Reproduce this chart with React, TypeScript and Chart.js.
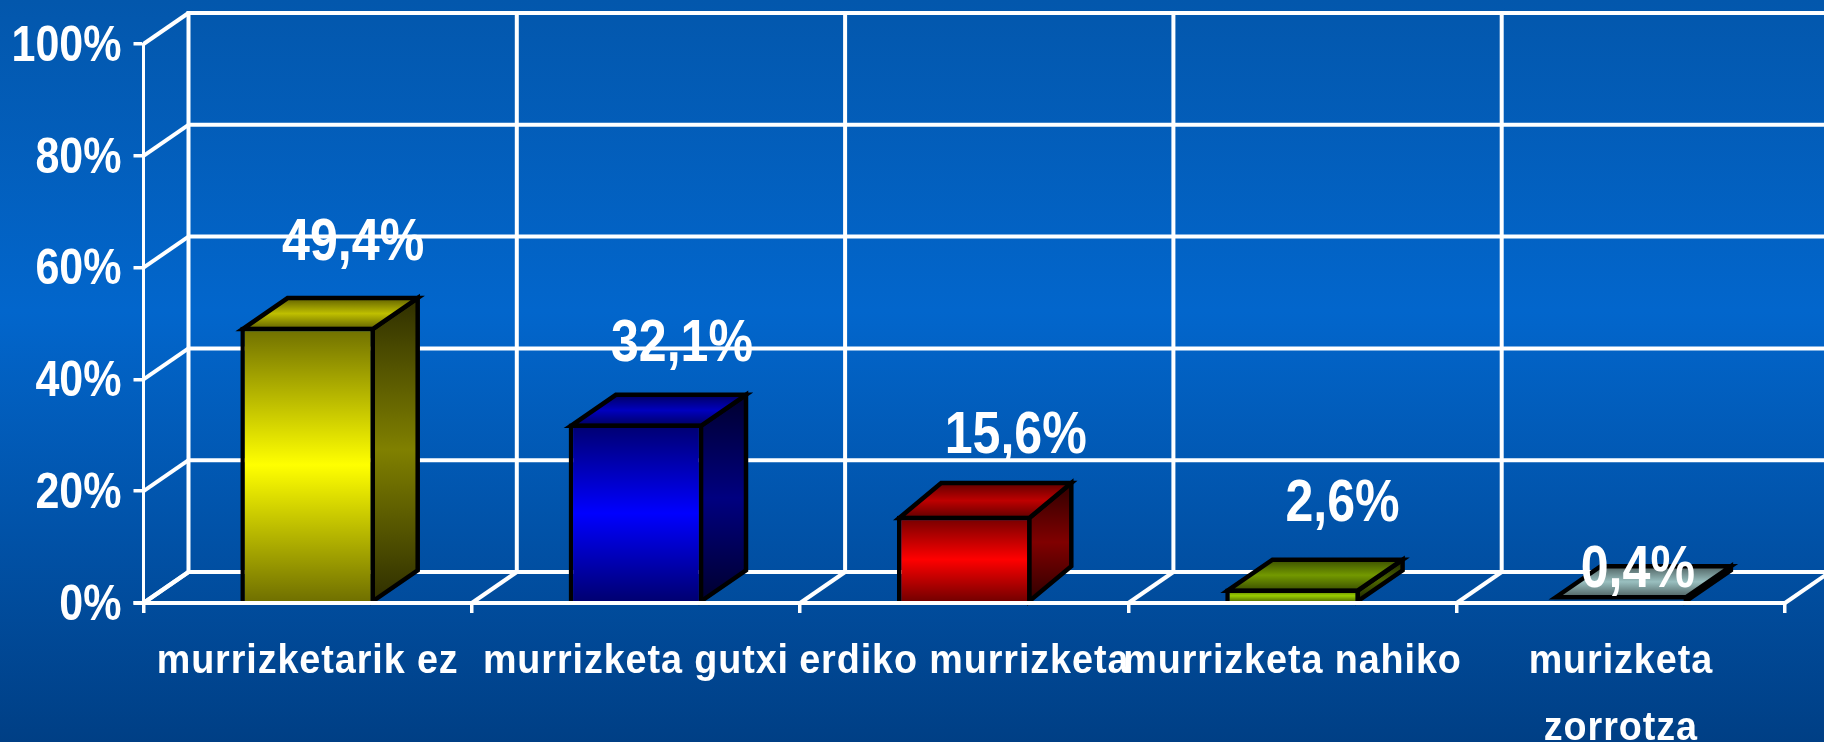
import React, { useEffect, useRef } from "react";
import { Chart, registerables } from "chart.js";

Chart.register(...registerables);

const categories: (string | string[])[] = [
  "murrizketarik ez",
  "murrizketa gutxi",
  "erdiko murrizketa",
  "murrizketa nahiko",
  ["murizketa", "zorrotza"],
];
const values = [49.4, 32.1, 15.6, 2.6, 0.4];
const barColors = [
  [255, 255, 0],
  [0, 0, 255],
  [255, 0, 0],
  [153, 204, 0],
  [204, 255, 255],
];
const labelShiftX = [45.5, 46, 51.5, 50, 17];
const labelShiftY = [-66.5, -63, -63, -67.5, -14];
const barDepthX = [45, 45, 42, 45, 45];
const barDepthY = [31, 31, 35, 31, 31];
const yMax = 100;
const yStep = 20;

const DEPTH_X = 45;
const DEPTH_Y = 31;
const EDGE = 4.5;

const rgb = (c: number[], f: number) =>
  `rgb(${Math.round(c[0] * f)},${Math.round(c[1] * f)},${Math.round(c[2] * f)})`;

const grad = (ctx: CanvasRenderingContext2D, y0: number, y1: number, c: number[], edge: number, mid: number) => {
  const g = ctx.createLinearGradient(0, y0, 0, y1);
  g.addColorStop(0, rgb(c, edge));
  g.addColorStop(0.5, rgb(c, mid));
  g.addColorStop(1, rgb(c, edge));
  return g;
};

// Axis labels in the reference are horizontally condensed: same layout items, drawn squeezed.
const squeezedLabels = (sx: number, spacing: string, dy: number) =>
  function (this: any, chartArea: any) {
    const ctx = this.ctx;
    for (const item of this.getLabelItems(chartArea)) {
      const [tx, ty] = item.options.translation;
      ctx.save();
      ctx.translate(tx, ty + dy);
      ctx.scale(sx, 1);
      ctx.font = item.font.string;
      ctx.fillStyle = "#ffffff";
      ctx.textAlign = item.options.textAlign;
      ctx.textBaseline = item.options.textBaseline;
      ctx.letterSpacing = spacing;
      const lines = Array.isArray(item.label) ? item.label : [item.label];
      let yy = item.textOffset;
      for (const l of lines) {
        ctx.fillText(l, 0, yy);
        yy += Number(item.font.lineHeight);
      }
      ctx.restore();
    }
  };

const scene = {
  id: "scene",
  beforeDraw(chart: any) {
    const { ctx, width, height, scales } = chart;
    const { x, y } = scales;
    ctx.save();
    const bg = ctx.createLinearGradient(0, 0, 0, height);
    bg.addColorStop(0, "#0357ac");
    bg.addColorStop(0.42, "#0266cc");
    bg.addColorStop(1, "#003f85");
    ctx.fillStyle = bg;
    ctx.fillRect(0, 0, width, height);

    ctx.strokeStyle = "#ffffff";
    ctx.lineWidth = 4;
    const left = x.left;
    const right = x.right;
    const top = y.getPixelForValue(yMax);
    const bottom = y.getPixelForValue(0);
    const line = (a: number, b: number, c: number, d: number) => {
      ctx.beginPath();
      ctx.moveTo(a, b);
      ctx.lineTo(c, d);
      ctx.stroke();
    };
    for (const t of y.ticks) {
      const py = y.getPixelForValue(t.value);
      line(left, py, left + DEPTH_X, py - DEPTH_Y);
      line(left + DEPTH_X, py - DEPTH_Y, width, py - DEPTH_Y);
    }
    const n = categories.length;
    const step = (right - left) / n;
    for (let i = 0; i <= n; i++) {
      const px = left + step * i;
      line(px, bottom, px + DEPTH_X, bottom - DEPTH_Y);
      line(px + DEPTH_X, top - DEPTH_Y - 2, px + DEPTH_X, bottom - DEPTH_Y);
    }
    ctx.restore();
  },
  beforeDatasetsDraw(chart: any) {
    const { ctx } = chart;
    const meta = chart.getDatasetMeta(0);
    ctx.save();
    ctx.lineWidth = EDGE;
    ctx.strokeStyle = "#000000";
    ctx.lineJoin = "miter";
    meta.data.forEach((bar: any, i: number) => {
      const c = barColors[i];
      const half = bar.width / 2;
      const dx = barDepthX[i];
      const dy = barDepthY[i];
      const x0 = bar.x - half + EDGE / 2;
      const x1 = bar.x + half - EDGE / 2;
      const yb = bar.base;
      const yt = Math.min(bar.y + EDGE / 2, yb - 4);
      ctx.beginPath();
      ctx.moveTo(x1, yt);
      ctx.lineTo(x1 + dx, yt - dy);
      ctx.lineTo(x1 + dx, yb - dy);
      ctx.lineTo(x1, yb);
      ctx.closePath();
      ctx.fillStyle = grad(ctx, yt - dy, yb, c, 0.18, 0.5);
      ctx.fill();
      ctx.stroke();
      ctx.beginPath();
      ctx.moveTo(x0, yt);
      ctx.lineTo(x0 + dx, yt - dy);
      ctx.lineTo(x1 + dx, yt - dy);
      ctx.lineTo(x1, yt);
      ctx.closePath();
      ctx.fillStyle = grad(ctx, yt - dy, yt, c, 0.38, 0.75);
      ctx.fill();
      ctx.stroke();
    });
    ctx.restore();
  },
  afterDatasetsDraw(chart: any) {
    const { ctx, scales } = chart;
    const { x, y } = scales;
    const meta = chart.getDatasetMeta(0);
    ctx.save();
    ctx.strokeStyle = "#ffffff";
    ctx.lineWidth = 4;
    ctx.beginPath();
    ctx.moveTo(x.left - 10, y.getPixelForValue(0));
    ctx.lineTo(x.right, y.getPixelForValue(0));
    ctx.stroke();
    ctx.fillStyle = "#ffffff";
    ctx.textAlign = "center";
    ctx.textBaseline = "alphabetic";
    ctx.font = "bold 60px 'Liberation Sans'";
    meta.data.forEach((bar: any, i: number) => {
      const text = values[i].toFixed(1).replace(".", ",") + "%";
      ctx.save();
      ctx.translate(bar.x + labelShiftX[i], bar.y + labelShiftY[i]);
      ctx.scale(0.835, 1);
      ctx.fillText(text, 0, 0);
      ctx.restore();
    });
    ctx.restore();
  },
};

export default function App() {
  const ref = useRef<HTMLCanvasElement>(null);
  useEffect(() => {
    const chart = new Chart(ref.current as HTMLCanvasElement, {
      type: "bar",
      data: {
        labels: categories as any,
        datasets: [
          {
            data: values,
            barPercentage: 0.41,
            categoryPercentage: 1,
            borderColor: "#000000",
            borderWidth: EDGE,
            borderSkipped: "bottom",
            backgroundColor: (c: any) => {
              const ch = c.chart;
              const col = barColors[c.dataIndex];
              if (!ch.chartArea || c.dataIndex === undefined) return "#000";
              const y = ch.scales.y;
              return grad(ch.ctx, y.getPixelForValue(values[c.dataIndex]), y.getPixelForValue(0), col, 0.43, 1);
            },
          },
        ],
      },
      options: {
        animation: false,
        responsive: false,
        layout: { padding: { top: 44, right: 39, left: 0, bottom: 0 } },
        plugins: { legend: { display: false }, tooltip: { enabled: false } },
        scales: {
          x: {
            offset: true,
            grid: { display: true, drawOnChartArea: false, drawTicks: true, tickLength: 10, color: "#ffffff", lineWidth: 3.5, offset: true },
            border: { display: false },
            ticks: {
              color: "#ffffff",
              font: { family: "'Liberation Sans'", weight: "bold", size: 41, lineHeight: 1.64 },
              maxRotation: 0,
              minRotation: 0,
              autoSkip: false,
              padding: 15,
            },
            afterFit: (s: any) => {
              s.height = 139;
              s.drawLabels = squeezedLabels(0.92, "1px", 0);
            },
          },
          y: {
            min: 0,
            max: yMax,
            grid: { display: true, drawOnChartArea: false, drawTicks: true, tickLength: 10, color: "#ffffff", lineWidth: 3.5 },
            border: { display: true, color: "#ffffff", width: 3 },
            ticks: {
              stepSize: yStep,
              color: "#ffffff",
              padding: 12,
              font: { family: "'Liberation Sans'", weight: "bold", size: 50 },
              callback: (v: any) => v + "%",
            },
            afterFit: (s: any) => {
              s.width = 143.5;
              s.drawLabels = squeezedLabels(0.86, "0px", 3);
            },
          },
        },
      },
      plugins: [scene as any],
    } as any);
    return () => chart.destroy();
  }, []);
  return (
    <div style={{ position: "fixed", left: 0, top: 0, width: 1824, height: 742, overflow: "hidden" }}>
      <canvas ref={ref} width={1824} height={742} style={{ display: "block" }} />
    </div>
  );
}
